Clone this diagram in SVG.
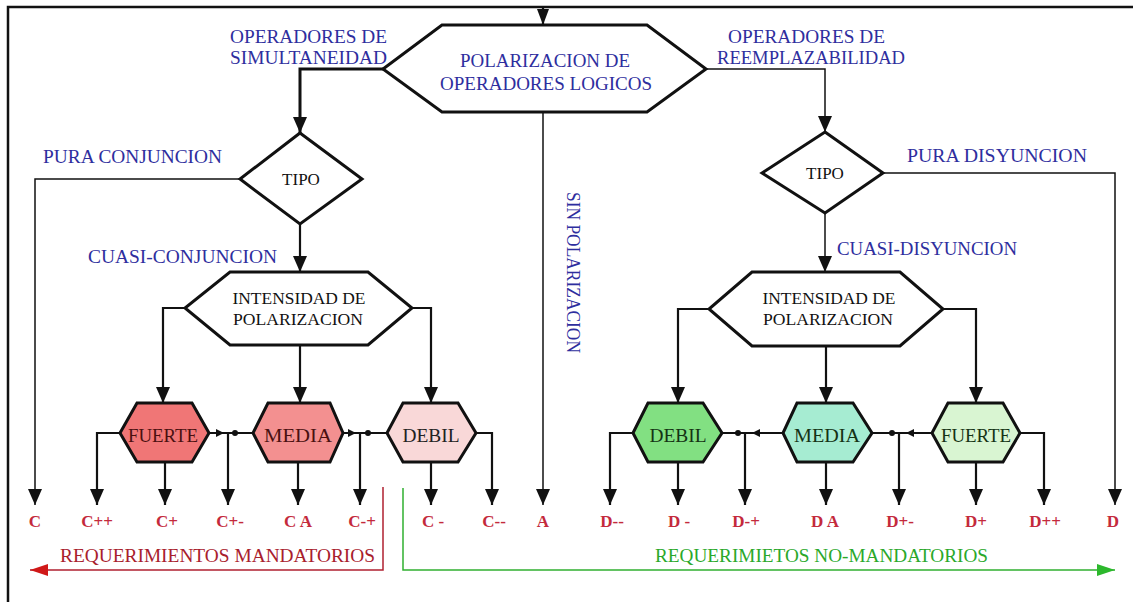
<svg xmlns="http://www.w3.org/2000/svg" width="1133" height="602" viewBox="0 0 1133 602">
<style>
.frame{fill:none;stroke:#111;stroke-width:2.5}
.c{fill:none;stroke:#111;stroke-width:2.2}
.ct{fill:none;stroke:#111;stroke-width:1.5}
.hx{stroke:#111;stroke-width:3;stroke-linejoin:miter}
.lbl{font-family:"Liberation Serif","Times New Roman",serif;font-size:18px;fill:#2e2e9e}
.blk{font-family:"Liberation Serif","Times New Roman",serif;font-size:17px;fill:#111;text-anchor:middle}
.nd{font-family:"Liberation Serif","Times New Roman",serif;font-size:19px;text-anchor:middle}
.out{font-family:"Liberation Serif","Times New Roman",serif;font-size:17px;font-weight:bold;fill:#c42a3c;text-anchor:middle}
.small{fill:#111}
</style>
<defs>
<marker id="ah" markerUnits="userSpaceOnUse" viewBox="0 0 16 14" refX="16" refY="7" markerWidth="16" markerHeight="14" orient="auto"><path d="M0,0 L16,7 L0,14 z" fill="#111"/></marker>
<marker id="ahs" markerUnits="userSpaceOnUse" viewBox="0 0 16 12" refX="16" refY="6" markerWidth="16" markerHeight="12" orient="auto"><path d="M0,0 L16,6 L0,12 z" fill="#111"/></marker>
<marker id="ahr" markerUnits="userSpaceOnUse" viewBox="0 0 18 12" refX="18" refY="6" markerWidth="18" markerHeight="12" orient="auto"><path d="M0,0 L18,6 L0,12 z" fill="#d01818"/></marker>
<marker id="ahg" markerUnits="userSpaceOnUse" viewBox="0 0 18 12" refX="18" refY="6" markerWidth="18" markerHeight="12" orient="auto"><path d="M0,0 L18,6 L0,12 z" fill="#2cb82c"/></marker>
</defs>
<path class="frame" d="M8,602 V7 H1133"/>
<g id="connectors">
<path class="c" d="M543,7 V25" marker-end="url(#ahs)"/>
<path class="c" d="M383,69 H300 V133" marker-end="url(#ah)" style="stroke-width:3"/>
<path class="ct" d="M706,69 H825 V132" marker-end="url(#ah)"/>
<path class="ct" d="M543,112 V505" marker-end="url(#ah)"/>
<path class="ct" d="M240,179 H35 V505" marker-end="url(#ah)"/>
<path class="c" d="M300,224 V272" marker-end="url(#ah)"/>
<path class="c" d="M185,308 H163 V403" marker-end="url(#ah)"/>
<path class="c" d="M300,345 V403" marker-end="url(#ah)"/>
<path class="c" d="M412,308 H431 V403" marker-end="url(#ah)"/>
<path class="c" d="M120,433 H97 V505" marker-end="url(#ah)"/>
<path class="c" d="M165,462 V505" marker-end="url(#ah)"/>
<path class="c" d="M209,433 H253"/>
<path class="c" d="M228,433 V505" marker-end="url(#ah)"/>
<path class="c" d="M298,462 V505" marker-end="url(#ah)"/>
<path class="c" d="M343,433 H387"/>
<path class="c" d="M360,433 V505" marker-end="url(#ah)"/>
<path class="c" d="M431,462 V505" marker-end="url(#ah)"/>
<path class="c" d="M476,433 H492 V505" marker-end="url(#ah)"/>
<path class="ct" d="M883,173 H1115 V505" marker-end="url(#ah)"/>
<path class="ct" d="M825,213 V272" marker-end="url(#ah)"/>
<path class="c" d="M709,309 H678 V403" marker-end="url(#ah)"/>
<path class="c" d="M826,346 V403" marker-end="url(#ah)"/>
<path class="c" d="M943,309 H976 V403" marker-end="url(#ah)"/>
<path class="c" d="M633,433 H610 V505" marker-end="url(#ah)"/>
<path class="c" d="M678,462 V505" marker-end="url(#ah)"/>
<path class="c" d="M722,433 H783"/>
<path class="c" d="M745,433 V505" marker-end="url(#ah)"/>
<path class="c" d="M826,462 V505" marker-end="url(#ah)"/>
<path class="c" d="M872,433 H932"/>
<path class="c" d="M899,433 V505" marker-end="url(#ah)"/>
<path class="c" d="M976,462 V505" marker-end="url(#ah)"/>
<path class="c" d="M1020,433 H1044 V505" marker-end="url(#ah)"/>
<g class="small">
<path d="M216,429 L224,433 L216,437 z"/><circle cx="235" cy="433" r="3"/>
<path d="M348,429 L356,433 L348,437 z"/><circle cx="368" cy="433" r="3"/>
<circle cx="738" cy="433" r="3"/><path d="M760,429 L752,433 L760,437 z"/>
<circle cx="892" cy="433" r="3"/><path d="M914,429 L906,433 L914,437 z"/>
</g>
<path d="M383,487 V570 H30" fill="none" stroke="#b02030" stroke-width="1.5" marker-end="url(#ahr)"/>
<path d="M403,488 V570 H1115" fill="none" stroke="#30b030" stroke-width="1.5" marker-end="url(#ahg)"/>
</g>
<g id="polarizacion">
<polygon class="hx" fill="#fff" points="442,25 647,25 706,69 647,112 442,112 383,69"/>
<text class="nd" fill="#2e2e9e" x="545" y="67" textLength="170" lengthAdjust="spacingAndGlyphs">POLARIZACION DE</text>
<text class="nd" fill="#2e2e9e" x="546" y="90" textLength="212" lengthAdjust="spacingAndGlyphs">OPERADORES LOGICOS</text>
</g>
<g id="labels">
<text class="lbl" x="230" y="43" textLength="157" lengthAdjust="spacingAndGlyphs">OPERADORES DE</text>
<text class="lbl" x="230" y="64" textLength="157" lengthAdjust="spacingAndGlyphs">SIMULTANEIDAD</text>
<text class="lbl" x="728" y="43" textLength="157" lengthAdjust="spacingAndGlyphs">OPERADORES DE</text>
<text class="lbl" x="717" y="64" textLength="188" lengthAdjust="spacingAndGlyphs">REEMPLAZABILIDAD</text>
<text class="lbl" x="43" y="163" textLength="179" lengthAdjust="spacingAndGlyphs">PURA CONJUNCION</text>
<text class="lbl" x="907" y="162" textLength="180" lengthAdjust="spacingAndGlyphs">PURA  DISYUNCION</text>
<text class="lbl" x="88" y="263" textLength="189" lengthAdjust="spacingAndGlyphs">CUASI-CONJUNCION</text>
<text class="lbl" x="837" y="255" textLength="180" lengthAdjust="spacingAndGlyphs">CUASI-DISYUNCION</text>
<text class="lbl" transform="translate(567,192) rotate(90)" textLength="161" lengthAdjust="spacingAndGlyphs">SIN POLARIZACION</text>
</g>
<g id="tipo-izq">
<polygon class="hx" fill="#fff" points="300,133 362,179 300,224 240,179"/>
<text class="blk" x="301" y="185">TIPO</text>
</g>
<g id="tipo-der">
<polygon class="hx" fill="#fff" points="825,132 883,173 825,213 762,173"/>
<text class="blk" x="825" y="179">TIPO</text>
</g>
<g id="intensidad-izq">
<polygon class="hx" fill="#fff" points="230,272 368,272 412,308 368,345 230,345 185,308"/>
<text class="blk" x="299" y="304" textLength="133" lengthAdjust="spacingAndGlyphs">INTENSIDAD DE</text>
<text class="blk" x="298" y="325" textLength="130" lengthAdjust="spacingAndGlyphs">POLARIZACION</text>
</g>
<g id="intensidad-der">
<polygon class="hx" fill="#fff" points="752,272 900,272 943,309 900,346 752,346 709,309"/>
<text class="blk" x="829" y="304" textLength="133" lengthAdjust="spacingAndGlyphs">INTENSIDAD DE</text>
<text class="blk" x="828" y="325" textLength="130" lengthAdjust="spacingAndGlyphs">POLARIZACION</text>
</g>
<g id="fuerte-c">
<polygon class="hx" fill="#f07676" points="137,403 192,403 209,433 192,462 137,462 120,433"/>
<text class="nd" fill="#4a1010" x="163" y="442" textLength="70" lengthAdjust="spacingAndGlyphs">FUERTE</text>
</g>
<g id="media-c">
<polygon class="hx" fill="#f39090" points="268,403 330,403 343,433 330,462 268,462 253,433"/>
<text class="nd" fill="#4a1010" x="298" y="442" textLength="68" lengthAdjust="spacingAndGlyphs">MEDIA</text>
</g>
<g id="debil-c">
<polygon class="hx" fill="#f9d8d8" points="403,403 458,403 476,433 458,462 403,462 387,433"/>
<text class="nd" fill="#222" x="431" y="442" textLength="57" lengthAdjust="spacingAndGlyphs">DEBIL</text>
</g>
<g id="debil-d">
<polygon class="hx" fill="#82e082" points="648,403 703,403 722,433 703,462 648,462 633,433"/>
<text class="nd" fill="#143214" x="678" y="442" textLength="57" lengthAdjust="spacingAndGlyphs">DEBIL</text>
</g>
<g id="media-d">
<polygon class="hx" fill="#a6ecd2" points="797,403 853,403 872,433 853,462 797,462 783,433"/>
<text class="nd" fill="#143214" x="827" y="442" textLength="66" lengthAdjust="spacingAndGlyphs">MEDIA</text>
</g>
<g id="fuerte-d">
<polygon class="hx" fill="#d9f5d2" points="948,403 1003,403 1020,433 1003,462 948,462 932,433"/>
<text class="nd" fill="#143214" x="976" y="442" textLength="70" lengthAdjust="spacingAndGlyphs">FUERTE</text>
</g>
<g id="salidas">
<text class="out" x="35" y="527">C</text>
<text class="out" x="97" y="527">C++</text>
<text class="out" x="167" y="527">C+</text>
<text class="out" x="230" y="527">C+-</text>
<text class="out" x="298" y="527">C A</text>
<text class="out" x="362" y="527">C-+</text>
<text class="out" x="433" y="527">C -</text>
<text class="out" x="494" y="527">C--</text>
<text class="out" x="543" y="527">A</text>
<text class="out" x="612" y="527">D--</text>
<text class="out" x="679" y="527">D -</text>
<text class="out" x="746" y="527">D-+</text>
<text class="out" x="825" y="527">D A</text>
<text class="out" x="900" y="527">D+-</text>
<text class="out" x="976" y="527">D+</text>
<text class="out" x="1045" y="527">D++</text>
<text class="out" x="1113" y="527">D</text>
</g>
<g id="requerimientos">
<text x="60" y="562" font-family="Liberation Serif, serif" font-size="19" fill="#a8202c" textLength="315" lengthAdjust="spacingAndGlyphs">REQUERIMIENTOS MANDATORIOS</text>
<text x="655" y="562" font-family="Liberation Serif, serif" font-size="19" fill="#2aa82a" textLength="333" lengthAdjust="spacingAndGlyphs">REQUERIMIETOS NO-MANDATORIOS</text>
</g>
</svg>
